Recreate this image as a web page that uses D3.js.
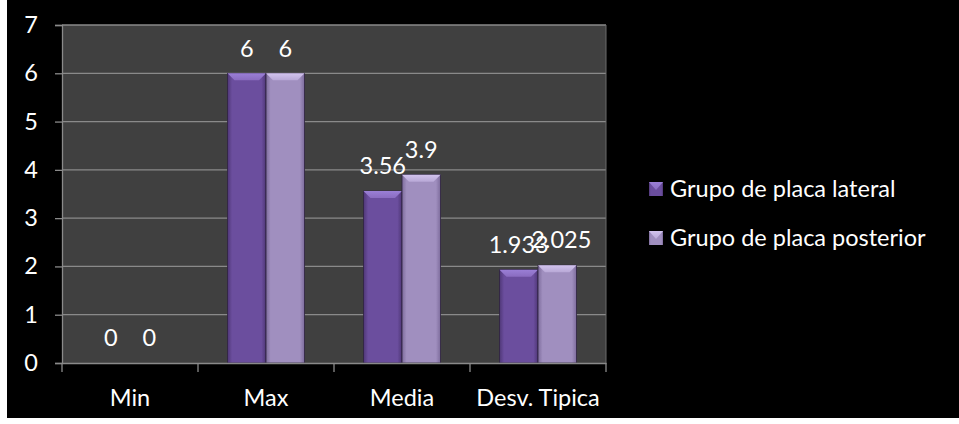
<!DOCTYPE html>
<html>
<head>
<meta charset="utf-8">
<script src="https://cdn.jsdelivr.net/npm/d3@7"></script>
<style>
  html, body { margin: 0; padding: 0; background: #ffffff; }
  svg { display: block; }
  text { font-family: Lato, "Open Sans", sans-serif; fill: #ffffff; }
</style>
</head>
<body>
<svg id="chart" width="959" height="424"></svg>
<script>
const categories = ["Min", "Max", "Media", "Desv. Tipica"];
const seriesNames = ["Grupo de placa lateral", "Grupo de placa posterior"];
const lateralValues = [0, 6, 3.56, 1.933];
const posteriorValues = [0, 6, 3.9, 2.025];
const lateralLabels = ["0", "6", "3.56", "1.933"];
const posteriorLabels = ["0", "6", "3.9", "2.025"];
const yTicks = [0, 1, 2, 3, 4, 5, 6, 7];

const W = 959, H = 424;
const FS = 23.5;
const svg = d3.select("#chart");
const defs = svg.append("defs");

// outer black chart area
svg.append("rect").attr("x", 7).attr("y", 0).attr("width", W - 7).attr("height", 418).attr("fill", "#000");

const plot = { left: 62, right: 606, top: 25, bottom: 363 };

const x0 = d3.scaleBand().domain(categories).range([plot.left, plot.right]).paddingInner(0).paddingOuter(0);
const x1 = d3.scaleBand().domain([0, 1]).range([0, x0.bandwidth()]).paddingOuter(0.765).paddingInner(0);
const y = d3.scaleLinear().domain([0, 7]).range([plot.bottom, plot.top]);

const colors = [
  { base: "#6b4e9e", dark: "#4f3777", light: "#8a6cc0", top: "#9a7fd6" },
  { base: "#a08fbf", dark: "#7d6c9c", light: "#b8a8d6", top: "#d2c4ee" }
];
colors.forEach((c, i) => {
  const g = defs.append("linearGradient").attr("id", "bar" + i).attr("x1", 0).attr("x2", 1).attr("y1", 0).attr("y2", 0);
  g.append("stop").attr("offset", "0%").attr("stop-color", c.dark);
  g.append("stop").attr("offset", "12%").attr("stop-color", c.base);
  g.append("stop").attr("offset", "50%").attr("stop-color", c.base);
  g.append("stop").attr("offset", "88%").attr("stop-color", c.base);
  g.append("stop").attr("offset", "100%").attr("stop-color", c.dark);
  const t = defs.append("linearGradient").attr("id", "top" + i).attr("x1", 0).attr("x2", 0).attr("y1", 0).attr("y2", 1);
  t.append("stop").attr("offset", "0%").attr("stop-color", c.top);
  t.append("stop").attr("offset", "100%").attr("stop-color", c.light);
});

// plot background
svg.append("rect").attr("x", plot.left).attr("y", plot.top)
  .attr("width", plot.right - plot.left).attr("height", plot.bottom - plot.top)
  .attr("fill", "#404040");

// gridlines
svg.append("g").selectAll("line").data(yTicks.filter(d => d > 0)).join("line")
  .attr("x1", plot.left).attr("x2", plot.right)
  .attr("y1", d => y(d)).attr("y2", d => y(d))
  .attr("stroke", "#8a8a8a").attr("stroke-width", 1.3);

// right border of plot
svg.append("line").attr("x1", plot.right).attr("x2", plot.right).attr("y1", plot.top).attr("y2", plot.bottom)
  .attr("stroke", "#6a6a6a").attr("stroke-width", 1);

// bars
const series = [lateralValues, posteriorValues];
const labels = [lateralLabels, posteriorLabels];
series.forEach((vals, si) => {
  const g = svg.append("g");
  categories.forEach((cat, ci) => {
    const v = vals[ci];
    const bx = x0(cat) + x1(si);
    const bw = x1.bandwidth();
    const by = y(v);
    const bh = y(0) - y(v);
    if (bh > 0) {
      g.append("rect").attr("x", bx).attr("y", by).attr("width", bw).attr("height", bh)
        .attr("fill", `url(#bar${si})`).attr("stroke", "#2e2440").attr("stroke-width", 0.8);
      const bev = Math.min(7, bh / 2);
      const pts = [[bx, by], [bx + bw, by], [bx + bw - bev, by + bev], [bx + bev, by + bev]];
      g.append("polygon").attr("points", pts.map(p => p.join(",")).join(" "))
        .attr("fill", `url(#top${si})`);
    }
  });
});

// data labels
series.forEach((vals, si) => {
  svg.append("g").selectAll("text").data(categories).join("text")
    .attr("x", (cat, ci) => x0(cat) + x1(si) + x1.bandwidth() / 2 + (si === 1 && ci === 3 ? 4 : 0))
    .attr("y", (cat, ci) => y(vals[ci]) - 25)
    .attr("dy", "0.35em")
    .attr("text-anchor", "middle")
    .attr("font-size", FS)
    .text((cat, ci) => labels[si][ci]);
});

// y axis
const yAxis = d3.axisLeft(y).tickValues(yTicks).tickSize(7).tickPadding(17).tickFormat(d3.format("d"));
const gy = svg.append("g").attr("transform", `translate(${plot.left},0)`).call(yAxis);
gy.select(".domain").attr("stroke", "#8a8a8a").attr("stroke-width", 1.3);
gy.selectAll(".tick line").attr("stroke", "#8a8a8a").attr("stroke-width", 1.3);
gy.selectAll(".tick text").attr("font-size", FS).attr("fill", "#fff").attr("font-family", "Lato, 'Open Sans', sans-serif");

// x axis
const gx = svg.append("g").attr("transform", `translate(0,${plot.bottom})`)
  .call(d3.axisBottom(x0).tickSize(0).tickPadding(26));
gx.select(".domain").attr("stroke", "#8a8a8a").attr("stroke-width", 1.3);
gx.selectAll(".tick text").attr("font-size", FS).attr("fill", "#fff").attr("font-family", "Lato, 'Open Sans', sans-serif");
const bounds = categories.map(c => x0(c)).concat([plot.right]);
svg.append("g").selectAll("line").data(bounds).join("line")
  .attr("x1", d => d).attr("x2", d => d).attr("y1", plot.bottom).attr("y2", plot.bottom + 9)
  .attr("stroke", "#8a8a8a").attr("stroke-width", 1.3);

// legend
const legend = svg.append("g");
seriesNames.forEach((name, i) => {
  const ly = 189 + i * 49;
  const mx = 649, ms = 14;
  legend.append("rect").attr("x", mx).attr("y", ly - ms / 2).attr("width", ms).attr("height", ms)
    .attr("fill", `url(#bar${i})`);
  legend.append("polygon")
    .attr("points", [[mx, ly - ms / 2], [mx + ms, ly - ms / 2], [mx + ms / 2, ly + 1]].map(p => p.join(",")).join(" "))
    .attr("fill", `url(#top${i})`);
  legend.append("text").attr("x", 670).attr("y", ly).attr("dy", "0.35em")
    .attr("font-size", FS).text(name);
});
</script>
</body>
</html>
